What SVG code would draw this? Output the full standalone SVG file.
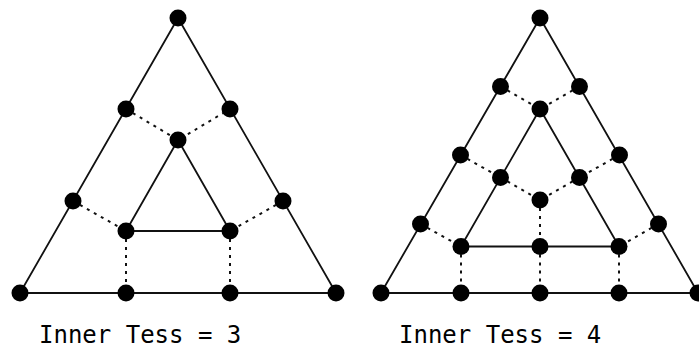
<svg xmlns="http://www.w3.org/2000/svg" width="699" height="351" viewBox="0 0 699 351">
  <style>
    .solid { stroke: #111; stroke-width: 1.8; fill: none; stroke-linejoin: round; }
    .dot-line { stroke: #111; stroke-width: 2; fill: none; stroke-dasharray: 3 5; }
    .v { fill: #000; }
    .label { font-family: "DejaVu Sans Mono", "Liberation Mono", monospace; font-size: 24px; fill: #000; }
  </style>
  <defs>
    <circle id="pt" r="8.5" class="v"/>
  </defs>

  <!-- Inner tessellation level 3 -->
  <g id="connectors-3">
    <polygon class="solid" points="178,18 20,293 336,293"/>
    <polygon class="solid" points="178,140 126,231 230,231"/>
    <polyline class="dot-line" points="126,109 178,140 230,109"/>
    <line class="dot-line" x1="73" y1="201" x2="126" y2="231"/>
    <line class="dot-line" x1="283" y1="201" x2="230" y2="231"/>
    <line class="dot-line" x1="126" y1="231" x2="126" y2="293"/>
    <line class="dot-line" x1="230" y1="231" x2="230" y2="293"/>
  </g>
  <g id="vertices-3">
    <use href="#pt" x="178" y="18"/>
    <use href="#pt" x="126" y="109"/>
    <use href="#pt" x="230" y="109"/>
    <use href="#pt" x="73" y="201"/>
    <use href="#pt" x="283" y="201"/>
    <use href="#pt" x="20" y="293"/>
    <use href="#pt" x="126" y="293"/>
    <use href="#pt" x="230" y="293"/>
    <use href="#pt" x="336" y="293"/>
    <use href="#pt" x="178" y="140"/>
    <use href="#pt" x="126" y="231"/>
    <use href="#pt" x="230" y="231"/>
  </g>
  <text id="label-3" class="label" x="39" y="343">Inner Tess = 3</text>

  <!-- Inner tessellation level 4 -->
  <g id="connectors-4">
    <polygon class="solid" points="540,18 381,293 698,293"/>
    <polygon class="solid" points="540,109 461,246.5 619,246.5"/>
    <polyline class="dot-line" points="500.5,86.5 540,109 579.5,86.5"/>
    <line class="dot-line" x1="460.5" y1="155" x2="500.5" y2="177.5"/>
    <line class="dot-line" x1="619.5" y1="155" x2="579.5" y2="177.5"/>
    <polyline class="dot-line" points="500.5,177.5 540,200 579.5,177.5"/>
    <line class="dot-line" x1="420.5" y1="224" x2="461" y2="246.5"/>
    <line class="dot-line" x1="658.5" y1="224" x2="619" y2="246.5"/>
    <line class="dot-line" x1="540" y1="200" x2="540" y2="246.5"/>
    <line class="dot-line" x1="461" y1="246.5" x2="461" y2="293"/>
    <line class="dot-line" x1="540" y1="246.5" x2="540" y2="293"/>
    <line class="dot-line" x1="619" y1="246.5" x2="619" y2="293"/>
  </g>
  <g id="vertices-4">
    <use href="#pt" x="540" y="18"/>
    <use href="#pt" x="500.5" y="86.5"/>
    <use href="#pt" x="579.5" y="86.5"/>
    <use href="#pt" x="460.5" y="155"/>
    <use href="#pt" x="619.5" y="155"/>
    <use href="#pt" x="420.5" y="224"/>
    <use href="#pt" x="658.5" y="224"/>
    <use href="#pt" x="381" y="293"/>
    <use href="#pt" x="461" y="293"/>
    <use href="#pt" x="540" y="293"/>
    <use href="#pt" x="619" y="293"/>
    <use href="#pt" x="698" y="293"/>
    <use href="#pt" x="540" y="109"/>
    <use href="#pt" x="500.5" y="177.5"/>
    <use href="#pt" x="579.5" y="177.5"/>
    <use href="#pt" x="540" y="200"/>
    <use href="#pt" x="461" y="246.5"/>
    <use href="#pt" x="540" y="246.5"/>
    <use href="#pt" x="619" y="246.5"/>
  </g>
  <text id="label-4" class="label" x="399" y="343">Inner Tess = 4</text>
</svg>
